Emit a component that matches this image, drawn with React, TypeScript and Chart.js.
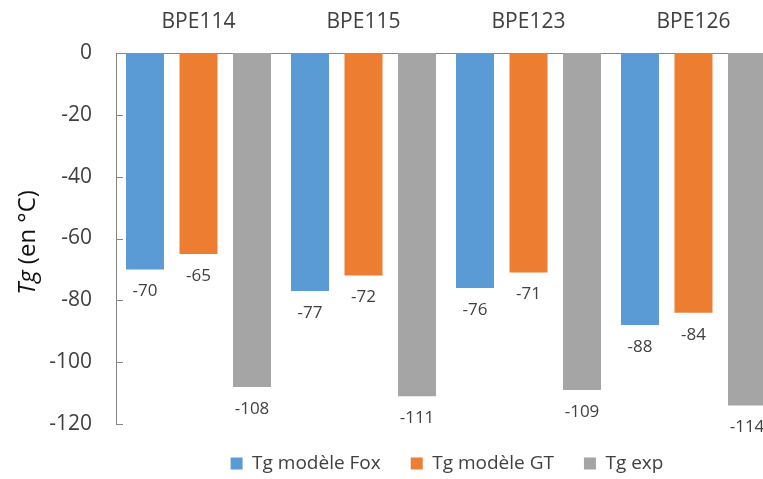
import React, { useEffect, useRef } from "react";
import { Chart, registerables } from "chart.js";

Chart.register(...registerables);

const categories = ["BPE114", "BPE115", "BPE123", "BPE126"];
const seriesNames = ["Tg modèle Fox", "Tg modèle GT", "Tg exp"];
const foxValues = [-70, -77, -76, -88];
const gtValues = [-65, -72, -71, -84];
const expValues = [-108, -111, -109, -114];
const seriesColors = ["#5B9BD5", "#ED7D31", "#A5A5A5"];
const yMin = -120;
const yMax = 0;
const yStep = 20;

const FONT = "'Open Sans', sans-serif";
const TEXT = "#404040";
const AXIS = "#868686";

const CANVAS_W = 894;
const CANVAS_H = 479;

export default function App() {
  const ref = useRef<HTMLCanvasElement | null>(null);

  useEffect(() => {
    document.body.style.margin = "0";
    const canvas = ref.current;
    if (!canvas) return;

    const dataLabels = {
      id: "dataLabels",
      afterDatasetsDraw(chart: any) {
        const ctx = chart.ctx;
        ctx.save();
        ctx.font = `17px ${FONT}`;
        ctx.fillStyle = TEXT;
        ctx.textAlign = "center";
        ctx.textBaseline = "middle";
        chart.data.datasets.forEach((ds: any, i: number) => {
          const meta = chart.getDatasetMeta(i);
          meta.data.forEach((el: any, j: number) => {
            ctx.fillText(String(ds.data[j]), el.x, el.y + 22);
          });
        });
        ctx.restore();
      },
    };

    const innerTicks = {
      id: "innerTicks",
      afterDraw(chart: any) {
        const ctx = chart.ctx;
        const y = chart.scales.y;
        ctx.save();
        ctx.strokeStyle = AXIS;
        ctx.lineWidth = 1;
        y.ticks.forEach((t: any) => {
          if (t.value === 0) return;
          const py = Math.round(y.getPixelForValue(t.value)) + 0.5;
          ctx.beginPath();
          ctx.moveTo(y.right, py);
          ctx.lineTo(y.right + 7, py);
          ctx.stroke();
        });
        ctx.restore();
      },
    };

    const yTitle = {
      id: "yTitle",
      afterDraw(chart: any) {
        const ctx = chart.ctx;
        const area = chart.chartArea;
        const cy = (area.top + area.bottom) / 2 + 4;
        const italic = `italic 24px ${FONT}`;
        const normal = `24px ${FONT}`;
        ctx.save();
        ctx.font = italic;
        const w1 = ctx.measureText("Tg").width;
        ctx.font = normal;
        const w2 = ctx.measureText(" (en °C)").width;
        const total = w1 + w2;
        ctx.translate(28, cy);
        ctx.rotate(-Math.PI / 2);
        ctx.fillStyle = "#111";
        ctx.textBaseline = "middle";
        ctx.textAlign = "left";
        ctx.font = italic;
        ctx.fillText("Tg", -total / 2, 0);
        ctx.font = normal;
        ctx.fillText(" (en °C)", -total / 2 + w1, 0);
        ctx.restore();
      },
    };

    const chart = new Chart(canvas, {
      type: "bar",
      data: {
        labels: categories,
        datasets: [
          { label: seriesNames[0], data: foxValues, backgroundColor: seriesColors[0] },
          { label: seriesNames[1], data: gtValues, backgroundColor: seriesColors[1] },
          { label: seriesNames[2], data: expValues, backgroundColor: seriesColors[2] },
        ],
      },
      options: {
        responsive: false,
        animation: false,
        devicePixelRatio: 1,
        layout: { padding: { left: 0, right: 0, top: 0, bottom: -4 } },
        datasets: {
          bar: { barPercentage: 0.71, categoryPercentage: 0.973 },
        },
        scales: {
          x: {
            position: "top",
            grid: { display: false },
            border: { display: true, color: AXIS, width: 1 },
            ticks: { font: { family: FONT, size: 21 }, color: TEXT, padding: 10, maxRotation: 0 },
            afterFit: (s: any) => {
              s.height = 53;
            },
          },
          y: {
            min: yMin,
            max: yMax,
            position: "left",
            grid: { display: false },
            border: { display: true, color: AXIS, width: 1 },
            ticks: { stepSize: yStep, font: { family: FONT, size: 21 }, color: TEXT, padding: 16 },
            afterFit: (s: any) => {
              s.width = 116;
            },
          },
          y2: {
            position: "right",
            display: true,
            grid: { display: false },
            border: { display: false },
            ticks: { display: false },
            afterFit: (s: any) => {
              s.width = CANVAS_W - 776;
            },
          },
        },
        plugins: {
          legend: {
            position: "bottom",
            labels: {
              font: { family: FONT, size: 19 },
              color: TEXT,
              boxWidth: 12,
              boxHeight: 12,
              padding: 30,
            },
          },
          tooltip: { enabled: false },
          title: { display: false },
        },
      },
      plugins: [dataLabels, innerTicks, yTitle],
    });

    return () => chart.destroy();
  }, []);

  return (
    <div style={{ width: 763, height: 479, overflow: "hidden", position: "relative" }}>
      <canvas
        ref={ref}
        width={CANVAS_W}
        height={CANVAS_H}
        style={{ display: "block", width: CANVAS_W, height: CANVAS_H }}
      />
    </div>
  );
}
